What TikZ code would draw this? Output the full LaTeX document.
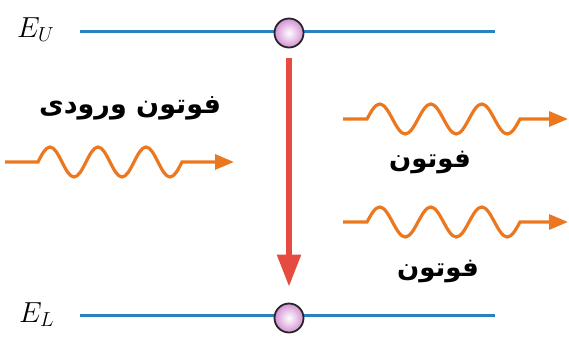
\RequirePackage{fix-cm}
\documentclass[tikz,border=0pt]{standalone}
\usepackage{fontspec}
\usetikzlibrary{arrows.meta}
\TeXXeTstate=1
\newfontfamily\arabicfont[Script=Arabic]{DejaVu Sans}
\definecolor{levelblue}{RGB}{40,130,190}
\definecolor{photonorange}{RGB}{235,120,30}
\definecolor{arrowred}{RGB}{230,75,65}
\definecolor{atompink}{RGB}{212,145,212}

\begin{document}
\begin{tikzpicture}[x=1pt,y=-1pt,
    level/.style={levelblue,line width=3pt},
    atom/.style={circle,draw=black!85,line width=1.8pt,inner color=white,outer color=atompink,minimum size=29pt,inner sep=0pt},
    photon/.style={photonorange,line width=3.2pt,-{Triangle[length=19pt,width=15pt]}},
    farsi/.style={font=\arabicfont\bfseries\fontsize{26}{30}\selectfont},
    energy/.style={font=\fontsize{29}{33}\selectfont,inner sep=0pt,anchor=base west}]
    \useasboundingbox (0,0) rectangle (569,341);
    % energy levels
    \coordinate (ua) at (80,31);
    \coordinate (ub) at (495,31);
    \coordinate (la) at (80,315);
    \coordinate (lb) at (495,315);
    \draw[level] (ua) -- (ub);
    \draw[level] (la) -- (lb);
    \node[energy] (eu) at (17,37) {$E_U$};
    \node[energy] (el) at (19,322) {$E_L$};
    \node[atom] (up) at (289,33) {};
    \node[atom] (lo) at (289,318) {};
    % transition
    \draw[arrowred,line width=5.5pt,-{Triangle[length=32pt,width=23pt]},shorten <=10pt,shorten >=16pt] (up) -- (lo);
    % incoming photon
    \coordinate (ina) at (5,162);
    \coordinate (inb) at (234,162);
    \draw[photon] (ina) -- ++(33,0)
        \foreach \k in {1,2,3}{ sin ++(12,-15) cos ++(12,15) sin ++(12,15) cos ++(12,-15) }
        -- (inb);
    \node[farsi,font=\arabicfont\bfseries\fontsize{27}{31}\selectfont] (inlabel) at (130,108) {\beginR فوتون ورودی\endR};
    % emitted photons
    \foreach \yy in {119,222}{
        \draw[photon] (343,\yy) -- ++(24,0)
            \foreach \k in {1,2,3}{ sin ++(12.75,-15) cos ++(12.75,15) sin ++(12.75,15) cos ++(12.75,-15) }
            -- (568,\yy);
    }
    \node[farsi] (outa) at (430,163) {\beginR فوتون\endR};
    \node[farsi] (outb) at (438,272) {\beginR فوتون\endR};
\end{tikzpicture}
\end{document}
